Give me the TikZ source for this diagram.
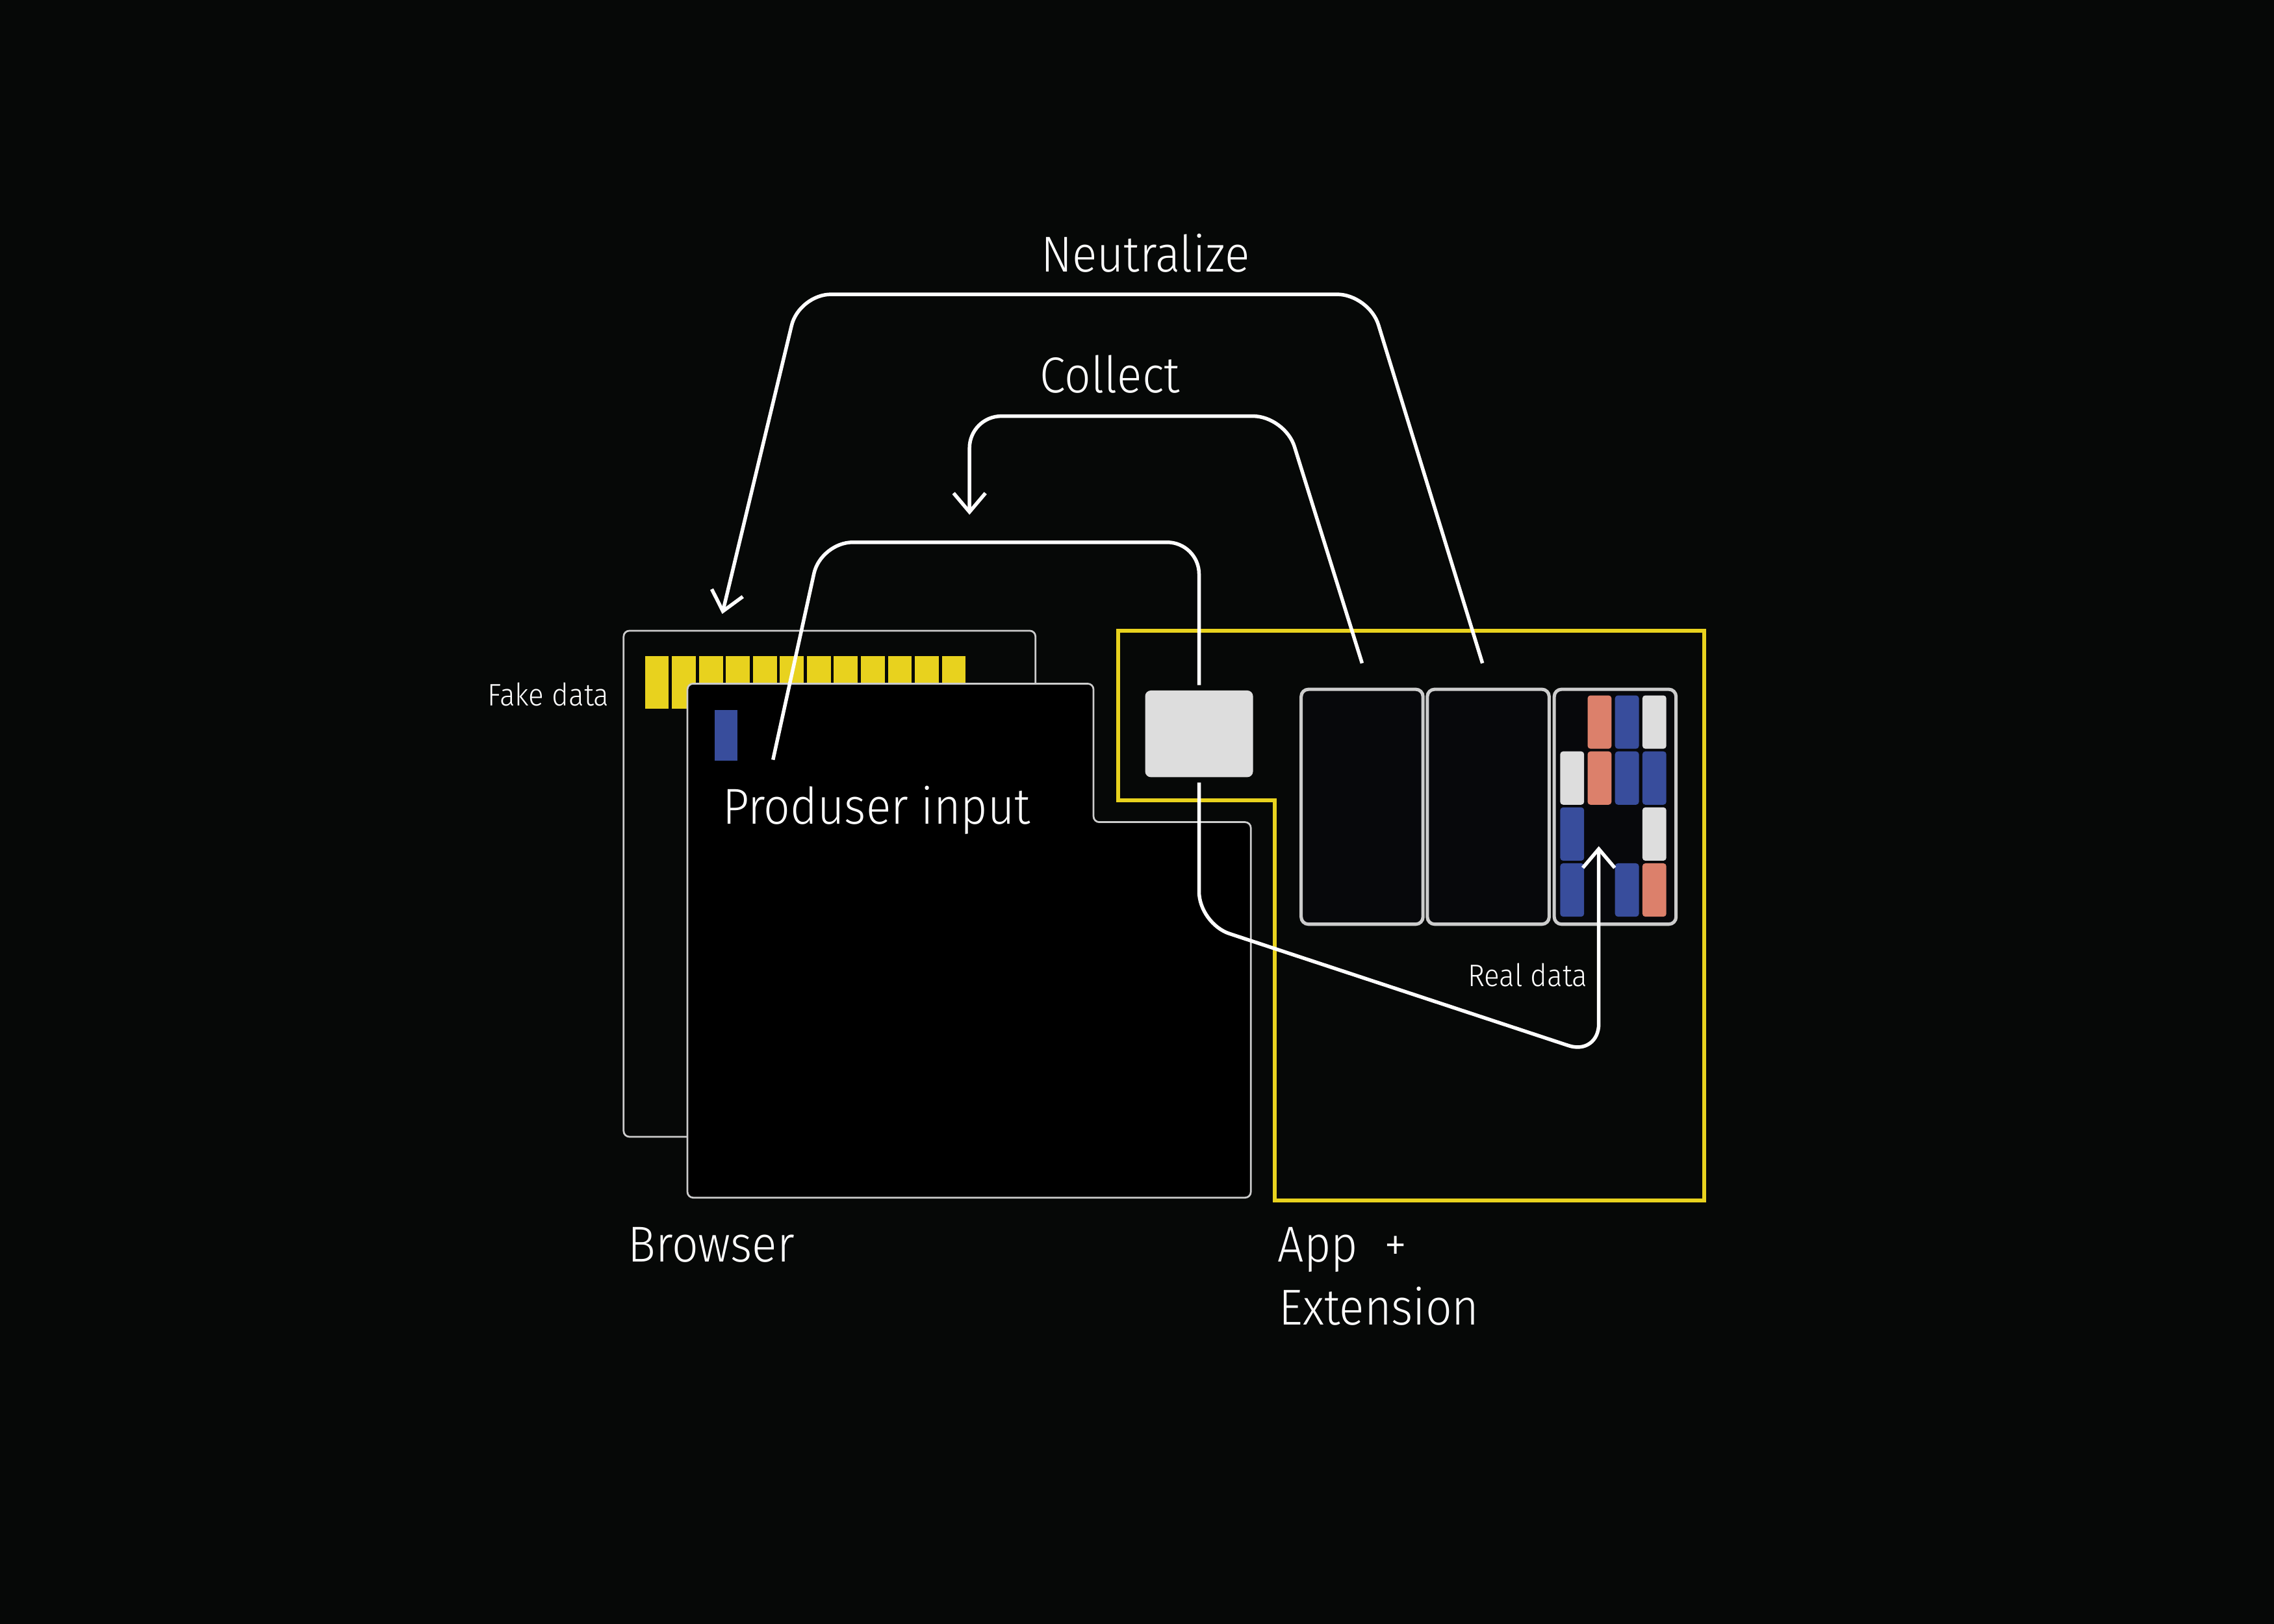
\documentclass[tikz,border=0pt]{standalone}
\usepackage{fontspec}
\setmainfont{Fira Sans}[UprightFont=* Light,FakeStretch=0.92]
\usepackage{tikz}
\usetikzlibrary{positioning,calc,arrows.meta}
\definecolor{fond}{HTML}{060807}
\definecolor{jaune}{HTML}{E8D21E}
\definecolor{bleu}{HTML}{384D9C}
\definecolor{saumon}{HTML}{DC806B}
\definecolor{gris}{HTML}{DDDDDD}
\definecolor{bord}{HTML}{CCCCCC}
\definecolor{carte}{HTML}{07080B}

\begin{document}
\begin{tikzpicture}[x=0.1mm,y=-0.1mm,
    panel/.style={draw=bord,line width=0.35pt,rounded corners=0.4mm},
    card/.style={draw=bord,fill=carte,line width=0.65pt,rounded corners=0.5mm,
        minimum width=8.4mm,minimum height=16.2mm,inner sep=0pt,outer sep=0pt},
    cell/.style={rounded corners=0.2mm},
    wire/.style={white,line width=0.7pt,rounded corners=2.2mm},
    pointe/.style={-{Straight Barb[length=1.3mm,width=2.2mm]}},
    labelbig/.style={text=white,font=\fontsize{9.9}{12}\selectfont,inner sep=0pt},
    labelsmall/.style={text=white,font=\fontsize{6.1}{7}\selectfont,inner sep=0pt}]
    \fill[fond] (0,0) rectangle (1568,1120);

    \filldraw[panel,fill=fond] (430,435) rectangle (714,784);
    \foreach \i in {0,...,11}
        \fill[jaune] (444.8+18.6*\i,452.5) rectangle +(16.4,36.2);
    \filldraw[panel,fill=black] (474,471.5) -- (754,471.5) -- (754,567) -- (862.5,567)
        -- (862.5,826) -- (474,826) -- cycle;
    \node[draw=black,line width=0.5pt,fill=bleu,minimum width=1.74mm,minimum height=3.64mm,
        inner sep=0pt] (inp) at (500.7,507.2) {};
    \coordinate (inp0) at (533,524);

    \draw[jaune,line width=0.75pt] (771,435) -- (1175,435) -- (1175,828) -- (879,828)
        -- (879,552) -- (771,552) -- cycle;
    \node[fill=gris,rounded corners=0.4mm,minimum width=7.44mm,minimum height=5.98mm,
        inner sep=0pt] (hub) at (826.8,506.1) {};
    \node[card] (cardA) at (939.2,556.4) {};
    \node[card,right=0.3mm of cardA] (cardB) {};
    \node[card,right=0.35mm of cardB] (cardC) {};
    \foreach \c/\r/\col in {1/0/saumon,2/0/bleu,3/0/gris,0/1/gris,1/1/saumon,2/1/bleu,
        3/1/bleu,0/2/bleu,3/2/gris,0/3/bleu,2/3/bleu,3/3/saumon}
        \fill[cell,\col] (1075.8+18.9*\c,479.6+38.6*\r) rectangle +(16.5,36.8);

    \coordinate (tipN) at (498,423.4);
    \coordinate (tipC) at (668.5,355);
    \coordinate (tipR) at (1102.4,583.6);
    \draw[wire,pointe] ($(cardB.north)+(-4,-18)$) -- (944,203) -- (551,203) -- (tipN);
    \draw[wire,pointe] ($(cardA.north)+(0,-18)$) -- (886,287) -- (668.5,287) -- (tipC);
    \draw[wire,shorten >=0.3mm] (inp0) -- (566,374) -- (826.8,374) -- (hub.north);
    \draw[wire,pointe,shorten <=0.3mm] (hub.south) -- (826.8,637) -- (1102.4,728) -- (tipR);

    \node[labelbig,anchor=base west] (neutr) at (717,187.3) {Neutralize};
    \node[labelbig,anchor=base west] (coll) at (716.5,270.8) {Collect};
    \node[labelbig,anchor=base west] (prod) at (497.5,568.2) {Produser input};
    \node[labelbig,anchor=base west] (brow) at (432.4,870.4) {Browser};
    \node[labelbig,anchor=base west] (app) at (880.4,870.4) {App\ \ +};
    \node[labelbig,anchor=base west] (extn) at (881.3,913.5) {Extension};
    \node[labelsmall,anchor=base east] (fake) at (420.7,486.9) {Fake data};
    \node[labelsmall,anchor=base west] (real) at (1011.5,680.1) {Real data};
\end{tikzpicture}
\end{document}
